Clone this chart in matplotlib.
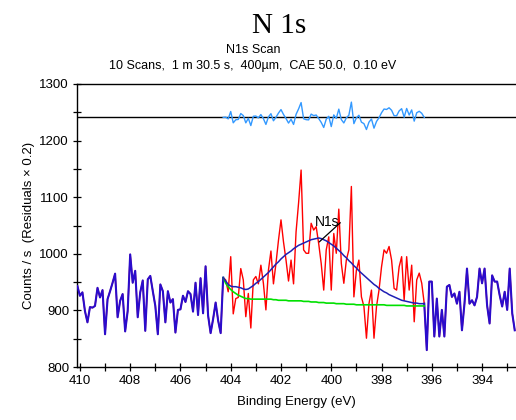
import numpy as np
import matplotlib
matplotlib.use("Agg")
import matplotlib.pyplot as plt
from matplotlib.ticker import MultipleLocator

plt.rcParams['font.family'] = ['Liberation Sans', 'DejaVu Sans']

# ---- data (binding energy grid, 0.1 eV step) ----
be_start = 410.1
be_step = 0.1

counts_left = [943, 926, 932, 899, 879, 906, 905, 908, 940, 923,
               936, 858, 920, 934, 949, 965, 888, 917, 929, 863,
               899, 999, 949, 970, 888, 932, 953, 864, 955, 961,
               934, 908, 858, 946, 934, 879, 934, 914, 920, 861,
               901, 902, 926, 915, 934, 929, 898, 949, 892, 957,
               895, 978, 891, 860, 885, 914, 882, 860]

counts_region = [958, 954, 933, 995, 894, 921, 923, 974, 954, 889,
                 930, 869, 954, 960, 947, 980, 948, 901, 971, 1005,
                 947, 983, 1024, 1060, 1021, 989, 952, 989, 947, 1039,
                 1090, 1148, 1007, 1001, 1001, 1054, 1042, 1048, 1018, 983,
                 936, 1007, 1030, 936, 1036, 1001, 1079, 983, 948, 989,
                 1007, 1119, 924, 971, 989, 924, 907, 851, 912, 936,
                 851, 907, 936, 977, 1007, 1001, 1013, 989, 939, 936,
                 977, 995, 918, 995, 936, 980, 880, 954, 966, 948,
                 912]

counts_right = [830, 951, 951, 854, 921, 854, 901, 854, 942, 945,
                924, 930, 912, 933, 865, 912, 974, 912, 918, 909,
                924, 974, 948, 974, 909, 877, 962, 951, 951, 927,
                907, 933, 901, 974, 895, 865]

envelope = [958, 952, 946, 943, 942, 942, 941, 940, 938, 937,
            938, 941, 944, 948, 951, 955, 959, 963, 967, 972,
            977, 982, 986, 991, 995, 999, 1002, 1005, 1009, 1012,
            1015, 1017, 1019, 1021, 1023, 1025, 1026, 1027, 1028, 1027,
            1025, 1023, 1020, 1017, 1014, 1010, 1006, 1002, 997, 993,
            988, 984, 979, 975, 970, 966, 962, 958, 954, 950,
            946, 943, 939, 936, 933, 931, 928, 926, 924, 922,
            920, 918, 917, 916, 915, 914, 913, 913, 912, 912,
            912]

background = [958, 948, 942, 937, 933, 930, 927, 925, 923, 921,
              921, 920, 920, 920, 920, 920, 920, 920, 920, 920,
              919, 919, 918, 918, 918, 918, 917, 917, 917, 917,
              917, 917, 916, 916, 916, 915, 915, 915, 914, 914,
              914, 913, 913, 913, 913, 912, 912, 912, 912, 911,
              911, 911, 911, 910, 910, 910, 910, 910, 910, 910,
              910, 910, 910, 910, 910, 909, 909, 909, 909, 909,
              909, 909, 909, 908, 908, 908, 908, 908, 908, 908,
              908]

residual_offset = 1241
residual_scale = 0.2

peak_name = 'N1s'
peak_label_line = [(400.48, 1021), (399.64, 1055)]
peak_label_pos = (400.17, 1056)

# ---- derived arrays ----
counts = np.array(counts_left + counts_region + counts_right, dtype=float)
be = np.round(be_start - be_step * np.arange(len(counts)), 2)
n_l = len(counts_left)
n_r = len(counts_region)
be_reg = be[n_l:n_l + n_r]
be_left = be[:n_l + 1]
be_right = be[n_l + n_r - 1:]
env = np.array(envelope, dtype=float)
bg = np.array(background, dtype=float)
resid = residual_offset + residual_scale * (np.array(counts_region) - env)

fig = plt.figure(figsize=(5.16, 4.2), dpi=100)
ax = fig.add_axes([0.150, 0.126, 0.850, 0.674])

# raw data
ax.plot(be, counts, color='#ff0000', lw=1.0, zorder=2)
# envelope outside region equals data (blue over red)
ax.plot(be_left, counts[:n_l + 1], color='#2a0ccc', lw=1.5, zorder=3)
ax.plot(be_right, counts[n_l + n_r - 1:], color='#2a0ccc', lw=1.5, zorder=3)
# background and envelope in region
ax.plot(be_reg, bg, color='#00e000', lw=1.2, zorder=3)
ax.plot(be_reg, env, color='#1f1fb4', lw=1.1, zorder=4)
# residuals
ax.axhline(residual_offset, color='black', lw=1.0, zorder=2)
ax.plot(be_reg, resid, color='#3399ff', lw=1.0, zorder=3)

# peak label
ax.annotate('', xy=peak_label_line[0], xytext=peak_label_line[1],
            arrowprops=dict(arrowstyle='-', color='black', lw=0.9,
                            shrinkA=0, shrinkB=0), zorder=5)
ax.text(peak_label_pos[0], peak_label_pos[1], peak_name,
        ha='center', va='center', fontsize=10, zorder=5)

ax.set_xlim(410.1, 392.65)
ax.set_ylim(800, 1300)
ax.xaxis.set_major_locator(MultipleLocator(2))
ax.xaxis.set_minor_locator(MultipleLocator(1))
ax.yaxis.set_major_locator(MultipleLocator(100))
ax.yaxis.set_minor_locator(MultipleLocator(50))
ax.tick_params(which='both', direction='inout', length=6, width=0.9,
               labelsize=9.5, top=False, right=False, pad=3)
ax.spines['right'].set_visible(False)
for s in ['left', 'bottom', 'top']:
    ax.spines[s].set_linewidth(1.0)

ax.set_xlabel('Binding Energy (eV)', fontsize=9.5, labelpad=6)
ax.set_ylabel('Counts / s  (Residuals \u00d7 0.2)', fontsize=9.5, labelpad=3)

fig.text(0.541, 0.921, 'N 1s', family=['Liberation Serif', 'DejaVu Serif'],
         fontsize=21, ha='center', va='baseline')
fig.text(0.49, 0.874, 'N1s Scan', fontsize=9, ha='center', va='baseline')
fig.text(0.49, 0.836, '10 Scans,  1 m 30.5 s,  400\u00b5m,  CAE 50.0,  0.10 eV',
         fontsize=9, ha='center', va='baseline')

fig.savefig('out.png', dpi=100)
